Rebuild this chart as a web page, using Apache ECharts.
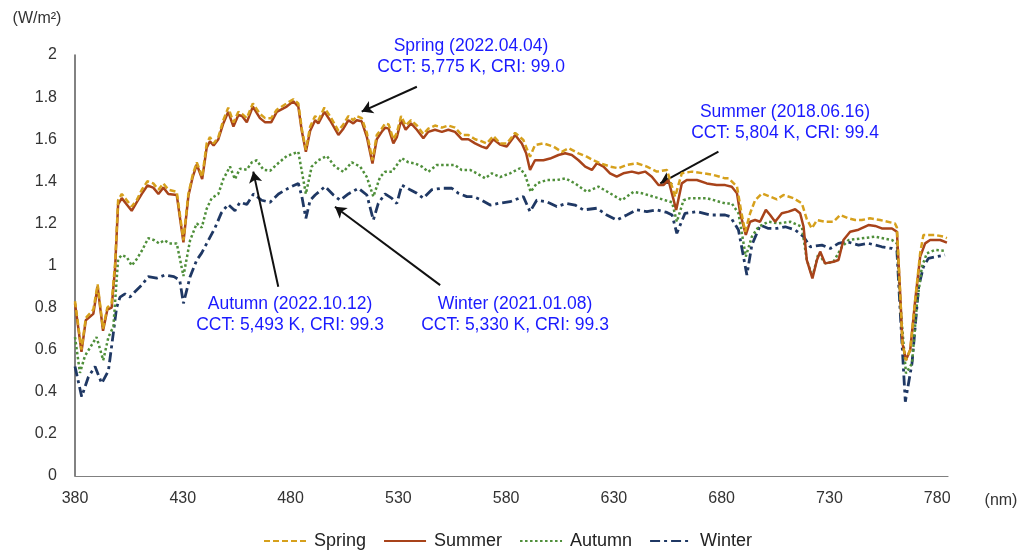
<!DOCTYPE html>
<html><head><meta charset="utf-8">
<script src="https://cdn.jsdelivr.net/npm/echarts@6/dist/echarts.min.js"></script>
<style>html,body{margin:0;padding:0;background:#fff}#c{width:1021px;height:552px}</style>
</head><body><div id="c"></div>
<script>
// Data: [wavelength nm, irradiance W/m²]
const seasons = ['Spring', 'Summer', 'Autumn', 'Winter'];
const spring = [[380,0.83],[383,0.60],[385,0.75],[388.5,0.79],[390.5,0.91],[393,0.70],[395,0.80],[397,0.82],[398.6,1.01],[400,1.31],[401.7,1.34],[404,1.31],[406.3,1.28],[408.6,1.31],[411,1.36],[413.6,1.40],[416.3,1.39],[418.7,1.36],[421,1.39],[423.3,1.36],[427.2,1.35],[430.3,1.12],[432.6,1.34],[434.6,1.43],[436.5,1.49],[439,1.42],[441.1,1.58],[442.6,1.61],[444.3,1.58],[446.5,1.61],[448.8,1.69],[451.1,1.75],[453.5,1.68],[455.8,1.73],[457.5,1.72],[459.7,1.70],[462.5,1.77],[465.8,1.72],[468.2,1.70],[471,1.70],[473.6,1.74],[478.2,1.77],[481.3,1.79],[483.6,1.77],[485.2,1.65],[487.1,1.55],[489.1,1.66],[491.4,1.71],[492.9,1.69],[495.7,1.75],[498.3,1.71],[502.2,1.64],[504.5,1.67],[506.8,1.71],[509.1,1.69],[510.7,1.71],[513,1.70],[515.4,1.63],[518,1.50],[520,1.62],[522.3,1.65],[523.9,1.675],[525.5,1.67],[527.7,1.60],[529.3,1.63],[531.3,1.71],[533.4,1.665],[535.9,1.69],[538.6,1.665],[541.6,1.625],[543.9,1.65],[547,1.665],[550.2,1.655],[553.2,1.665],[556.3,1.655],[559.4,1.62],[562.5,1.62],[565.6,1.60],[568.7,1.59],[571,1.58],[574.1,1.615],[577.2,1.58],[580.3,1.58],[584.2,1.63],[588,1.596],[591.1,1.517],[593.4,1.572],[597.3,1.58],[602,1.565],[605.8,1.54],[609,1.557],[613.6,1.533],[617.4,1.517],[620.5,1.50],[623.6,1.486],[628.2,1.47],[632.1,1.462],[636,1.478],[640.6,1.486],[645.3,1.47],[649.9,1.446],[654.6,1.454],[658.4,1.327],[661.5,1.438],[666.2,1.446],[671.5,1.438],[676.2,1.43],[681.6,1.414],[683.2,1.414],[687.1,1.375],[689,1.26],[690.9,1.16],[693.2,1.248],[695.5,1.31],[698.7,1.343],[702.5,1.327],[705.6,1.314],[708.7,1.335],[713.3,1.32],[717.2,1.295],[719.5,1.22],[721.8,1.176],[724.2,1.216],[728,1.208],[731.9,1.208],[735,1.24],[738.9,1.224],[742,1.216],[745,1.216],[748.8,1.224],[753.5,1.216],[760.4,1.20],[761.3,1.18],[762.8,0.87],[763.9,0.63],[765.5,0.55],[767.5,0.60],[769.8,0.84],[772.1,1.06],[773.6,1.145],[779,1.145],[782.9,1.137],[784.5,1.13]];
const summer = [[380,0.82],[383,0.59],[385,0.74],[388.5,0.77],[390.5,0.90],[393,0.69],[395,0.79],[397,0.80],[398.6,0.99],[400,1.29],[401.7,1.32],[404,1.29],[406.3,1.26],[408.6,1.30],[411,1.34],[413.6,1.38],[416.3,1.37],[418.7,1.34],[421,1.37],[423.3,1.34],[427.2,1.335],[430.3,1.11],[432.6,1.33],[434.6,1.42],[436.5,1.48],[439,1.41],[441.1,1.56],[442.6,1.59],[444.3,1.57],[446.5,1.60],[448.8,1.675],[451.1,1.73],[453.5,1.66],[455.8,1.715],[457.5,1.71],[459.7,1.68],[462.5,1.755],[465.8,1.70],[468.2,1.68],[471,1.68],[473.6,1.73],[478.2,1.755],[481.3,1.78],[483.6,1.755],[485.2,1.64],[487.1,1.54],[489.1,1.64],[491.4,1.69],[492.9,1.675],[495.7,1.73],[498.3,1.69],[502.2,1.62],[504.5,1.65],[506.8,1.69],[509.1,1.675],[510.7,1.69],[513,1.685],[515.4,1.61],[518,1.485],[520,1.60],[522.3,1.635],[523.9,1.655],[525.5,1.65],[527.7,1.58],[529.3,1.61],[531.3,1.69],[533.4,1.645],[535.9,1.675],[538.6,1.645],[541.6,1.605],[543.9,1.635],[547,1.645],[550.2,1.635],[553.2,1.645],[556.3,1.635],[559.4,1.60],[562.5,1.60],[565.6,1.58],[568.7,1.565],[571,1.557],[574.1,1.60],[577.2,1.575],[580.3,1.565],[584.2,1.62],[587.3,1.58],[589.3,1.533],[591.1,1.454],[593.4,1.50],[597.3,1.50],[600.4,1.508],[604.3,1.525],[607.4,1.533],[610.5,1.525],[613.6,1.50],[616.7,1.47],[619.8,1.454],[622.1,1.486],[625.2,1.47],[628.2,1.438],[631.3,1.422],[634.4,1.438],[638.3,1.446],[641.4,1.438],[644.5,1.446],[647.6,1.422],[650.7,1.382],[653,1.382],[655.3,1.406],[658.9,1.264],[661.5,1.39],[663.8,1.406],[668.5,1.406],[673.1,1.39],[677.7,1.382],[681.6,1.382],[684.7,1.374],[687.1,1.343],[688.6,1.248],[691.2,1.145],[693.2,1.208],[695.5,1.216],[697.8,1.208],[700.5,1.264],[702.5,1.24],[704.8,1.208],[707.9,1.248],[711,1.256],[714.1,1.267],[716.4,1.248],[718,1.184],[719.5,1.026],[722.1,0.939],[724.2,1.026],[725.7,1.066],[728,1.01],[731.9,1.018],[734.2,1.026],[736.5,1.121],[739.6,1.16],[743.5,1.17],[748.1,1.192],[751.2,1.188],[754.3,1.176],[759,1.176],[761.3,1.16],[762.8,0.868],[763.9,0.63],[765.5,0.551],[767.5,0.60],[769.8,0.836],[772.1,1.042],[774.4,1.105],[776.7,1.121],[779,1.121],[781.4,1.121],[784.5,1.109]];
const autumn = [[380,0.66],[382.3,0.49],[384.6,0.57],[387,0.61],[390,0.66],[393.1,0.55],[395.5,0.66],[397.8,0.71],[400,1.03],[401.7,1.05],[404,1.04],[406.3,1.00],[408.6,1.03],[411,1.07],[414,1.13],[416.8,1.12],[419,1.105],[421.5,1.12],[423.8,1.105],[427.2,1.105],[430.3,0.95],[433.4,1.12],[436.5,1.20],[438.8,1.18],[441.1,1.27],[443.4,1.32],[446.5,1.34],[448.8,1.41],[451.9,1.47],[454.2,1.41],[456.5,1.46],[459.7,1.455],[462,1.49],[464.3,1.50],[467.4,1.455],[470.5,1.45],[473.6,1.48],[478.2,1.52],[483.6,1.54],[487.1,1.34],[489.8,1.47],[492.9,1.50],[496.8,1.52],[500.6,1.47],[504.5,1.445],[508.4,1.49],[512.3,1.47],[515.4,1.42],[518.4,1.327],[521.5,1.42],[523.8,1.445],[527,1.445],[529.3,1.477],[531.6,1.51],[534.7,1.49],[537.8,1.485],[540.9,1.47],[543.9,1.445],[547.8,1.477],[551.7,1.477],[556.3,1.477],[559.4,1.454],[563.3,1.454],[566.4,1.438],[570.3,1.414],[573.4,1.438],[577.2,1.42],[581.8,1.438],[586.5,1.462],[588.8,1.43],[591.4,1.35],[594.2,1.39],[598.8,1.406],[603.5,1.406],[607.4,1.414],[612,1.39],[617.4,1.35],[622.8,1.375],[628.2,1.343],[633.7,1.31],[639.1,1.35],[643,1.343],[648.4,1.327],[653.8,1.31],[657,1.30],[659.2,1.208],[662.3,1.31],[665.4,1.32],[673.1,1.32],[681.6,1.295],[684.7,1.295],[687.8,1.248],[691.2,1.042],[694,1.137],[697.1,1.184],[701.7,1.208],[706.4,1.20],[711.8,1.208],[717.2,1.184],[719.5,1.026],[722.1,0.947],[724.9,1.058],[728,1.01],[731.9,1.018],[735.8,1.089],[738.9,1.121],[745,1.129],[751.2,1.137],[759,1.121],[761.3,1.105],[763,0.80],[765.5,0.488],[768.3,0.535],[770.6,0.82],[772.9,0.994],[775.2,1.058],[779,1.074],[783.6,1.07]];
const winter = [[380,0.52],[383.1,0.377],[386.2,0.47],[389.3,0.52],[392.4,0.44],[395.5,0.50],[397.8,0.68],[399.3,0.80],[400.9,0.85],[403.2,0.865],[405.5,0.85],[407.8,0.875],[411,0.907],[414,0.947],[417.9,0.94],[421.8,0.955],[425.9,0.947],[428.6,0.93],[430.3,0.82],[433.4,0.947],[436.5,1.026],[438.8,1.06],[441.9,1.12],[445,1.18],[447.9,1.25],[451,1.29],[454.2,1.26],[456.5,1.30],[459.7,1.29],[462.8,1.34],[466.6,1.31],[470.5,1.30],[474.4,1.34],[479,1.367],[480.5,1.375],[483.6,1.39],[485.2,1.33],[487.1,1.224],[489.1,1.31],[491.4,1.335],[496,1.375],[499.9,1.335],[503,1.31],[506.8,1.34],[511.5,1.367],[515.4,1.335],[518.4,1.216],[520.7,1.295],[523.8,1.34],[526.9,1.32],[529.3,1.295],[531.6,1.382],[535.5,1.36],[538.6,1.343],[541.6,1.32],[545.5,1.36],[550.2,1.367],[554.8,1.367],[557.9,1.343],[561.8,1.327],[564.9,1.327],[568.7,1.31],[572.6,1.287],[576.4,1.295],[581.8,1.303],[588,1.327],[591.1,1.256],[594.2,1.31],[598.8,1.303],[603.5,1.28],[608.1,1.295],[612,1.287],[615.9,1.264],[622.1,1.272],[626.7,1.24],[631.3,1.216],[636,1.24],[640.6,1.264],[645.3,1.256],[649.9,1.264],[654.6,1.252],[657,1.24],[659.2,1.153],[663,1.248],[668.5,1.256],[674.7,1.24],[681.6,1.24],[684,1.232],[687.8,1.169],[691.7,0.955],[694,1.097],[697.9,1.192],[701.7,1.176],[705.6,1.176],[709.5,1.184],[714.1,1.169],[718,1.137],[721.1,1.089],[726.5,1.097],[730.4,1.081],[734.2,1.105],[738.1,1.113],[743.5,1.097],[748.1,1.105],[754.3,1.089],[759,1.081],[761.3,1.07],[763,0.75],[765.2,0.353],[768.3,0.535],[771.4,0.90],[773.6,0.994],[775.9,1.034],[779.8,1.042],[783.6,1.05]];
const annotationTitles = ['Spring (2022.04.04)', 'Summer (2018.06.16)', 'Autumn (2022.10.12)', 'Winter (2021.01.08)'];
const annotationStats = ['CCT: 5,775 K, CRI: 99.0', 'CCT: 5,804 K, CRI: 99.4', 'CCT: 5,493 K, CRI: 99.3', 'CCT: 5,330 K, CRI: 99.3'];
const yUnit = '(W/m²)';
const xUnit = '(nm)';

const FONT = '"Liberation Sans", Arial, sans-serif';
const chart = echarts.init(document.getElementById('c'), null, {renderer: 'canvas'});

const styles = [
  {color: '#D6A01C', type: [6, 3], width: 2.5},
  {color: '#A8431A', type: 'solid', width: 2.5},
  {color: '#4F8F3A', type: [2.5, 2.5], width: 2.5},
  {color: '#1F3864', type: [10, 4, 3, 4], width: 2.8}
];
const allData = [spring, summer, autumn, winter];

// annotation layout (pixels) and arrow endpoints (data coords)
const annPos = [[471, 46], [785, 112], [290, 304], [515, 304]];
const arrows = [
  [[538.6, 1.849], [513.0, 1.731]],
  [[678.5, 1.541], [651.5, 1.390]],
  [[474.3, 0.899], [462.7, 1.446]],
  [[549.4, 0.907], [500.6, 1.279]]
];

const series = seasons.map((name, i) => ({
  name, type: 'line', data: allData[i], showSymbol: false, symbol: 'none',
  lineStyle: {color: styles[i].color, type: styles[i].type, width: styles[i].width},
  itemStyle: {color: styles[i].color},
  emphasis: {disabled: true},
  z: [4, 3, 2, 1][i] + 2,
  silent: true
}));
series[1].markLine = {
  silent: true, symbol: ['none', 'arrow'], symbolSize: [10, 11],
  label: {show: false},
  lineStyle: {color: '#111', width: 2, type: 'solid'},
  emphasis: {disabled: true},
  data: arrows.map(a => [{coord: a[0]}, {coord: a[1]}])
};

const graphics = [];
annPos.forEach((p, i) => {
  graphics.push({type: 'text', x: p[0], y: p[1], style: {text: annotationTitles[i], fill: '#1a1aff', fontSize: 17.5, fontFamily: FONT, align: 'center', verticalAlign: 'middle'}});
  graphics.push({type: 'text', x: p[0], y: p[1] + 21.5, style: {text: annotationStats[i], fill: '#1a1aff', fontSize: 17.5, fontFamily: FONT, align: 'center', verticalAlign: 'middle'}});
});
graphics.push({type: 'text', x: 37, y: 19, style: {text: yUnit, fill: '#333', fontSize: 16, fontFamily: FONT, align: 'center', verticalAlign: 'middle'}});
graphics.push({type: 'text', x: 1001, y: 501, style: {text: xUnit, fill: '#333', fontSize: 16, fontFamily: FONT, align: 'center', verticalAlign: 'middle'}});

chart.setOption({
  animation: false,
  backgroundColor: '#fff',
  textStyle: {fontFamily: FONT},
  grid: {left: 75, right: 73, top: 55, bottom: 76, containLabel: false, outerBoundsMode: 'none'},
  xAxis: {
    type: 'value', min: 380, max: 785, interval: 50,
    axisLine: {show: true, lineStyle: {color: '#808080', width: 1.2}},
    axisTick: {show: false},
    splitLine: {show: false},
    axisLabel: {color: '#333', fontSize: 16, fontFamily: FONT, margin: 15, showMaxLabel: false, showMinLabel: true}
  },
  yAxis: {
    type: 'value', min: 0, max: 2, interval: 0.2,
    axisLine: {show: true, lineStyle: {color: '#595959', width: 1.5}},
    axisTick: {show: false},
    splitLine: {show: false},
    axisLabel: {color: '#333', fontSize: 16, fontFamily: FONT, margin: 18}
  },
  legend: {
    data: seasons, left: 258, top: 527, itemWidth: 42, itemHeight: 14, itemGap: 17,
    itemStyle: {opacity: 0},
    textStyle: {fontSize: 18, color: '#222', fontFamily: FONT, padding: [0, 0, 0, 3]},
    selectedMode: false
  },
  series,
  graphic: graphics
});
</script></body></html>
